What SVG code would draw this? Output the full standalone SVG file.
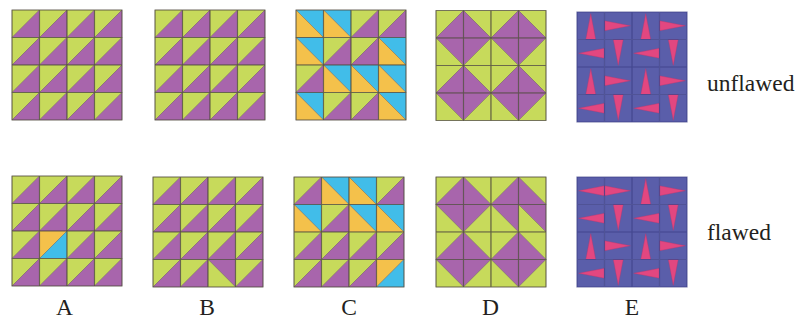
<svg xmlns="http://www.w3.org/2000/svg" width="798" height="322" viewBox="0 0 798 322">
<style>
.g{fill:#c7da5b}
.p{fill:#a865ac}
.b{fill:#41bde9}
.o{fill:#f4c14b}
.t polygon{stroke:#5a4e46;stroke-opacity:0.45;stroke-width:0.8;stroke-linejoin:round}
.eb{fill:#5a5eaa}
.ek{fill:#e24780;stroke:#b8356a;stroke-width:0.6;stroke-opacity:0.6}
.grid{stroke:#4d4a3c;stroke-opacity:0.6;stroke-width:1.2;fill:none}
.egrid{stroke:#3a3d84;stroke-opacity:0.7;stroke-width:1.2;fill:none}
.lbl{font-family:"Liberation Serif","Times New Roman",serif;font-size:23.5px;fill:#231f20}
</style>
<defs>
<g id="gp" class="t"><polygon points="0,0 27.5,0 0,27.5" class="g"/><polygon points="27.5,0 27.5,27.5 0,27.5" class="p"/></g>
<g id="bo" class="t"><polygon points="0,0 27.5,0 27.5,27.5" class="b"/><polygon points="0,0 27.5,27.5 0,27.5" class="o"/></g>
<g id="ob" class="t"><polygon points="0,0 27.5,0 0,27.5" class="o"/><polygon points="27.5,0 27.5,27.5 0,27.5" class="b"/></g>
<g id="pg" class="t"><polygon points="0,0 27.5,0 27.5,27.5" class="p"/><polygon points="0,0 27.5,27.5 0,27.5" class="g"/></g>
<g id="d2" class="t"><polygon points="0,0 27.5,0 27.5,27.5" class="g"/><polygon points="0,0 27.5,27.5 0,27.5" class="p"/></g>
<g id="d4" class="t"><polygon points="0,0 27.5,0 0,27.5" class="p"/><polygon points="27.5,0 27.5,27.5 0,27.5" class="g"/></g>
<g id="eu"><rect width="27.5" height="27.5" class="eb"/><polygon points="13.75,1.7 8.8,27.5 18.7,27.5" class="ek"/></g>
<g id="er"><rect width="27.5" height="27.5" class="eb"/><polygon points="0,8.8 0,18.7 25.8,13.75" class="ek"/></g>
<g id="ed"><rect width="27.5" height="27.5" class="eb"/><polygon points="8.8,0 18.7,0 13.75,25.8" class="ek"/></g>
<g id="el"><rect width="27.5" height="27.5" class="eb"/><polygon points="27.5,8.8 27.5,18.7 1.7,13.75" class="ek"/></g>
<path id="grid" d="M0 0H110V110H0Z M27.5 0V110 M55 0V110 M82.5 0V110 M0 27.5H110 M0 55H110 M0 82.5H110"/>
</defs>

<g id="panel-A-unflawed" transform="translate(12,10)">
<use href="#gp" x="0" y="0"/><use href="#gp" x="27.5" y="0"/><use href="#gp" x="55" y="0"/><use href="#gp" x="82.5" y="0"/>
<use href="#gp" x="0" y="27.5"/><use href="#gp" x="27.5" y="27.5"/><use href="#gp" x="55" y="27.5"/><use href="#gp" x="82.5" y="27.5"/>
<use href="#gp" x="0" y="55"/><use href="#gp" x="27.5" y="55"/><use href="#gp" x="55" y="55"/><use href="#gp" x="82.5" y="55"/>
<use href="#gp" x="0" y="82.5"/><use href="#gp" x="27.5" y="82.5"/><use href="#gp" x="55" y="82.5"/><use href="#gp" x="82.5" y="82.5"/>
<use href="#grid" class="grid"/>
</g>
<g id="panel-A-flawed" transform="translate(12,176)">
<use href="#gp" x="0" y="0"/><use href="#gp" x="27.5" y="0"/><use href="#gp" x="55" y="0"/><use href="#gp" x="82.5" y="0"/>
<use href="#gp" x="0" y="27.5"/><use href="#gp" x="27.5" y="27.5"/><use href="#gp" x="55" y="27.5"/><use href="#gp" x="82.5" y="27.5"/>
<use href="#gp" x="0" y="55"/><use href="#ob" x="27.5" y="55"/><use href="#gp" x="55" y="55"/><use href="#gp" x="82.5" y="55"/>
<use href="#gp" x="0" y="82.5"/><use href="#gp" x="27.5" y="82.5"/><use href="#gp" x="55" y="82.5"/><use href="#gp" x="82.5" y="82.5"/>
<use href="#grid" class="grid"/>
</g>

<g id="panel-B-unflawed" transform="translate(155,10)">
<use href="#gp" x="0" y="0"/><use href="#gp" x="27.5" y="0"/><use href="#gp" x="55" y="0"/><use href="#gp" x="82.5" y="0"/>
<use href="#gp" x="0" y="27.5"/><use href="#gp" x="27.5" y="27.5"/><use href="#gp" x="55" y="27.5"/><use href="#gp" x="82.5" y="27.5"/>
<use href="#gp" x="0" y="55"/><use href="#gp" x="27.5" y="55"/><use href="#gp" x="55" y="55"/><use href="#gp" x="82.5" y="55"/>
<use href="#gp" x="0" y="82.5"/><use href="#gp" x="27.5" y="82.5"/><use href="#gp" x="55" y="82.5"/><use href="#gp" x="82.5" y="82.5"/>
<use href="#grid" class="grid"/>
</g>
<g id="panel-B-flawed" transform="translate(153,177)">
<use href="#gp" x="0" y="0"/><use href="#gp" x="27.5" y="0"/><use href="#gp" x="55" y="0"/><use href="#gp" x="82.5" y="0"/>
<use href="#gp" x="0" y="27.5"/><use href="#gp" x="27.5" y="27.5"/><use href="#gp" x="55" y="27.5"/><use href="#gp" x="82.5" y="27.5"/>
<use href="#gp" x="0" y="55"/><use href="#gp" x="27.5" y="55"/><use href="#gp" x="55" y="55"/><use href="#gp" x="82.5" y="55"/>
<use href="#gp" x="0" y="82.5"/><use href="#gp" x="27.5" y="82.5"/><use href="#pg" x="55" y="82.5"/><use href="#gp" x="82.5" y="82.5"/>
<use href="#grid" class="grid"/>
</g>

<g id="panel-C-unflawed" transform="translate(296,10)">
<use href="#bo" x="0" y="0"/><use href="#bo" x="27.5" y="0"/><use href="#gp" x="55" y="0"/><use href="#gp" x="82.5" y="0"/>
<use href="#bo" x="0" y="27.5"/><use href="#gp" x="27.5" y="27.5"/><use href="#gp" x="55" y="27.5"/><use href="#bo" x="82.5" y="27.5"/>
<use href="#gp" x="0" y="55"/><use href="#bo" x="27.5" y="55"/><use href="#bo" x="55" y="55"/><use href="#bo" x="82.5" y="55"/>
<use href="#bo" x="0" y="82.5"/><use href="#gp" x="27.5" y="82.5"/><use href="#gp" x="55" y="82.5"/><use href="#bo" x="82.5" y="82.5"/>
<use href="#grid" class="grid"/>
</g>
<g id="panel-C-flawed" transform="translate(294,177)">
<use href="#gp" x="0" y="0"/><use href="#bo" x="27.5" y="0"/><use href="#bo" x="55" y="0"/><use href="#gp" x="82.5" y="0"/>
<use href="#bo" x="0" y="27.5"/><use href="#gp" x="27.5" y="27.5"/><use href="#bo" x="55" y="27.5"/><use href="#bo" x="82.5" y="27.5"/>
<use href="#gp" x="0" y="55"/><use href="#gp" x="27.5" y="55"/><use href="#gp" x="55" y="55"/><use href="#gp" x="82.5" y="55"/>
<use href="#gp" x="0" y="82.5"/><use href="#gp" x="27.5" y="82.5"/><use href="#gp" x="55" y="82.5"/><use href="#ob" x="82.5" y="82.5"/>
<use href="#grid" class="grid"/>
</g>

<g id="panel-D-unflawed" transform="translate(436,10.5)">
<use href="#gp" x="0" y="0"/><use href="#d2" x="27.5" y="0"/><use href="#gp" x="55" y="0"/><use href="#d2" x="82.5" y="0"/>
<use href="#pg" x="0" y="27.5"/><use href="#d4" x="27.5" y="27.5"/><use href="#pg" x="55" y="27.5"/><use href="#d4" x="82.5" y="27.5"/>
<use href="#gp" x="0" y="55"/><use href="#d2" x="27.5" y="55"/><use href="#gp" x="55" y="55"/><use href="#d2" x="82.5" y="55"/>
<use href="#pg" x="0" y="82.5"/><use href="#d4" x="27.5" y="82.5"/><use href="#pg" x="55" y="82.5"/><use href="#d4" x="82.5" y="82.5"/>
<use href="#grid" class="grid"/>
</g>
<g id="panel-D-flawed" transform="translate(436,177)">
<use href="#gp" x="0" y="0"/><use href="#d2" x="27.5" y="0"/><use href="#gp" x="55" y="0"/><use href="#d2" x="82.5" y="0"/>
<use href="#pg" x="0" y="27.5"/><use href="#d4" x="27.5" y="27.5"/><use href="#pg" x="55" y="27.5"/><use href="#pg" x="82.5" y="27.5"/>
<use href="#gp" x="0" y="55"/><use href="#d2" x="27.5" y="55"/><use href="#gp" x="55" y="55"/><use href="#d2" x="82.5" y="55"/>
<use href="#pg" x="0" y="82.5"/><use href="#d4" x="27.5" y="82.5"/><use href="#pg" x="55" y="82.5"/><use href="#d4" x="82.5" y="82.5"/>
<use href="#grid" class="grid"/>
</g>

<g id="panel-E-unflawed" transform="translate(577,12)">
<use href="#eu" x="0" y="0"/><use href="#er" x="27.5" y="0"/><use href="#eu" x="55" y="0"/><use href="#er" x="82.5" y="0"/>
<use href="#el" x="0" y="27.5"/><use href="#ed" x="27.5" y="27.5"/><use href="#el" x="55" y="27.5"/><use href="#ed" x="82.5" y="27.5"/>
<use href="#eu" x="0" y="55"/><use href="#er" x="27.5" y="55"/><use href="#eu" x="55" y="55"/><use href="#er" x="82.5" y="55"/>
<use href="#el" x="0" y="82.5"/><use href="#ed" x="27.5" y="82.5"/><use href="#el" x="55" y="82.5"/><use href="#ed" x="82.5" y="82.5"/>
<use href="#grid" class="egrid"/>
</g>
<g id="panel-E-flawed" transform="translate(577,177)">
<use href="#el" x="0" y="0"/><use href="#er" x="27.5" y="0"/><use href="#eu" x="55" y="0"/><use href="#er" x="82.5" y="0"/>
<use href="#el" x="0" y="27.5"/><use href="#ed" x="27.5" y="27.5"/><use href="#el" x="55" y="27.5"/><use href="#ed" x="82.5" y="27.5"/>
<use href="#eu" x="0" y="55"/><use href="#er" x="27.5" y="55"/><use href="#eu" x="55" y="55"/><use href="#er" x="82.5" y="55"/>
<use href="#el" x="0" y="82.5"/><use href="#ed" x="27.5" y="82.5"/><use href="#el" x="55" y="82.5"/><use href="#ed" x="82.5" y="82.5"/>
<use href="#grid" class="egrid"/>
</g>

<g id="connectors"/>

<g id="labels" class="lbl">
<text x="707" y="90.7">unflawed</text>
<text x="707" y="240">flawed</text>
<text x="64.5" y="315" text-anchor="middle">A</text>
<text x="207" y="315" text-anchor="middle">B</text>
<text x="349" y="315" text-anchor="middle">C</text>
<text x="490.5" y="315" text-anchor="middle">D</text>
<text x="632" y="315" text-anchor="middle">E</text>
</g>
</svg>
